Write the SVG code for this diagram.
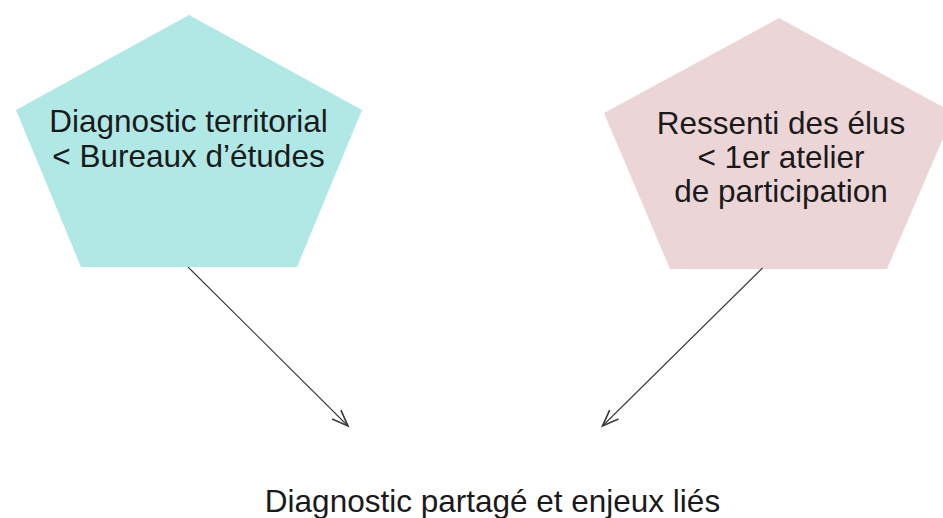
<svg xmlns="http://www.w3.org/2000/svg" width="943" height="518" viewBox="0 0 943 518">
  <style>
    text { font-family: "Liberation Sans", Arial, sans-serif; font-size: 31.5px; fill: #1a1a1a; text-anchor: middle; }
    .edge { fill: none; stroke: #3a3a3a; stroke-width: 1.1; }
  </style>
  <defs>
    <marker id="open-arrow" markerUnits="userSpaceOnUse" markerWidth="20" markerHeight="20" refX="0" refY="0" viewBox="-14 -8 16 16" orient="auto" overflow="visible">
      <path d="M-13,-5 L0,0 L-13,5" fill="none" stroke="#3a3a3a" stroke-width="1.3"/>
    </marker>
  </defs>

  <rect width="943" height="518" fill="#ffffff"/>

  <g id="node-diagnostic-territorial">
    <polygon points="189,15 362,110 297,267 81,267 16,110" fill="#b0e8e6"/>
    <text x="188.5" y="132">Diagnostic territorial</text>
    <text x="188.5" y="166.5">&lt; Bureaux d’études</text>
  </g>

  <g id="node-ressenti-elus">
    <polygon points="779,18 954,113 887,269 670,269 604,113" fill="#ecd5d7"/>
    <text x="781" y="133.5">Ressenti des élus</text>
    <text x="781" y="168">&lt; 1er atelier</text>
    <text x="781" y="201.5">de participation</text>
  </g>

  <g id="node-diagnostic-partage">
    <text x="492.5" y="511.5">Diagnostic partagé et enjeux liés</text>
  </g>

  <g id="connectors">
    <line class="edge" x1="188" y1="267" x2="348" y2="426" marker-end="url(#open-arrow)"/>
    <line class="edge" x1="762.5" y1="268" x2="602.5" y2="426" marker-end="url(#open-arrow)"/>
  </g>
</svg>
